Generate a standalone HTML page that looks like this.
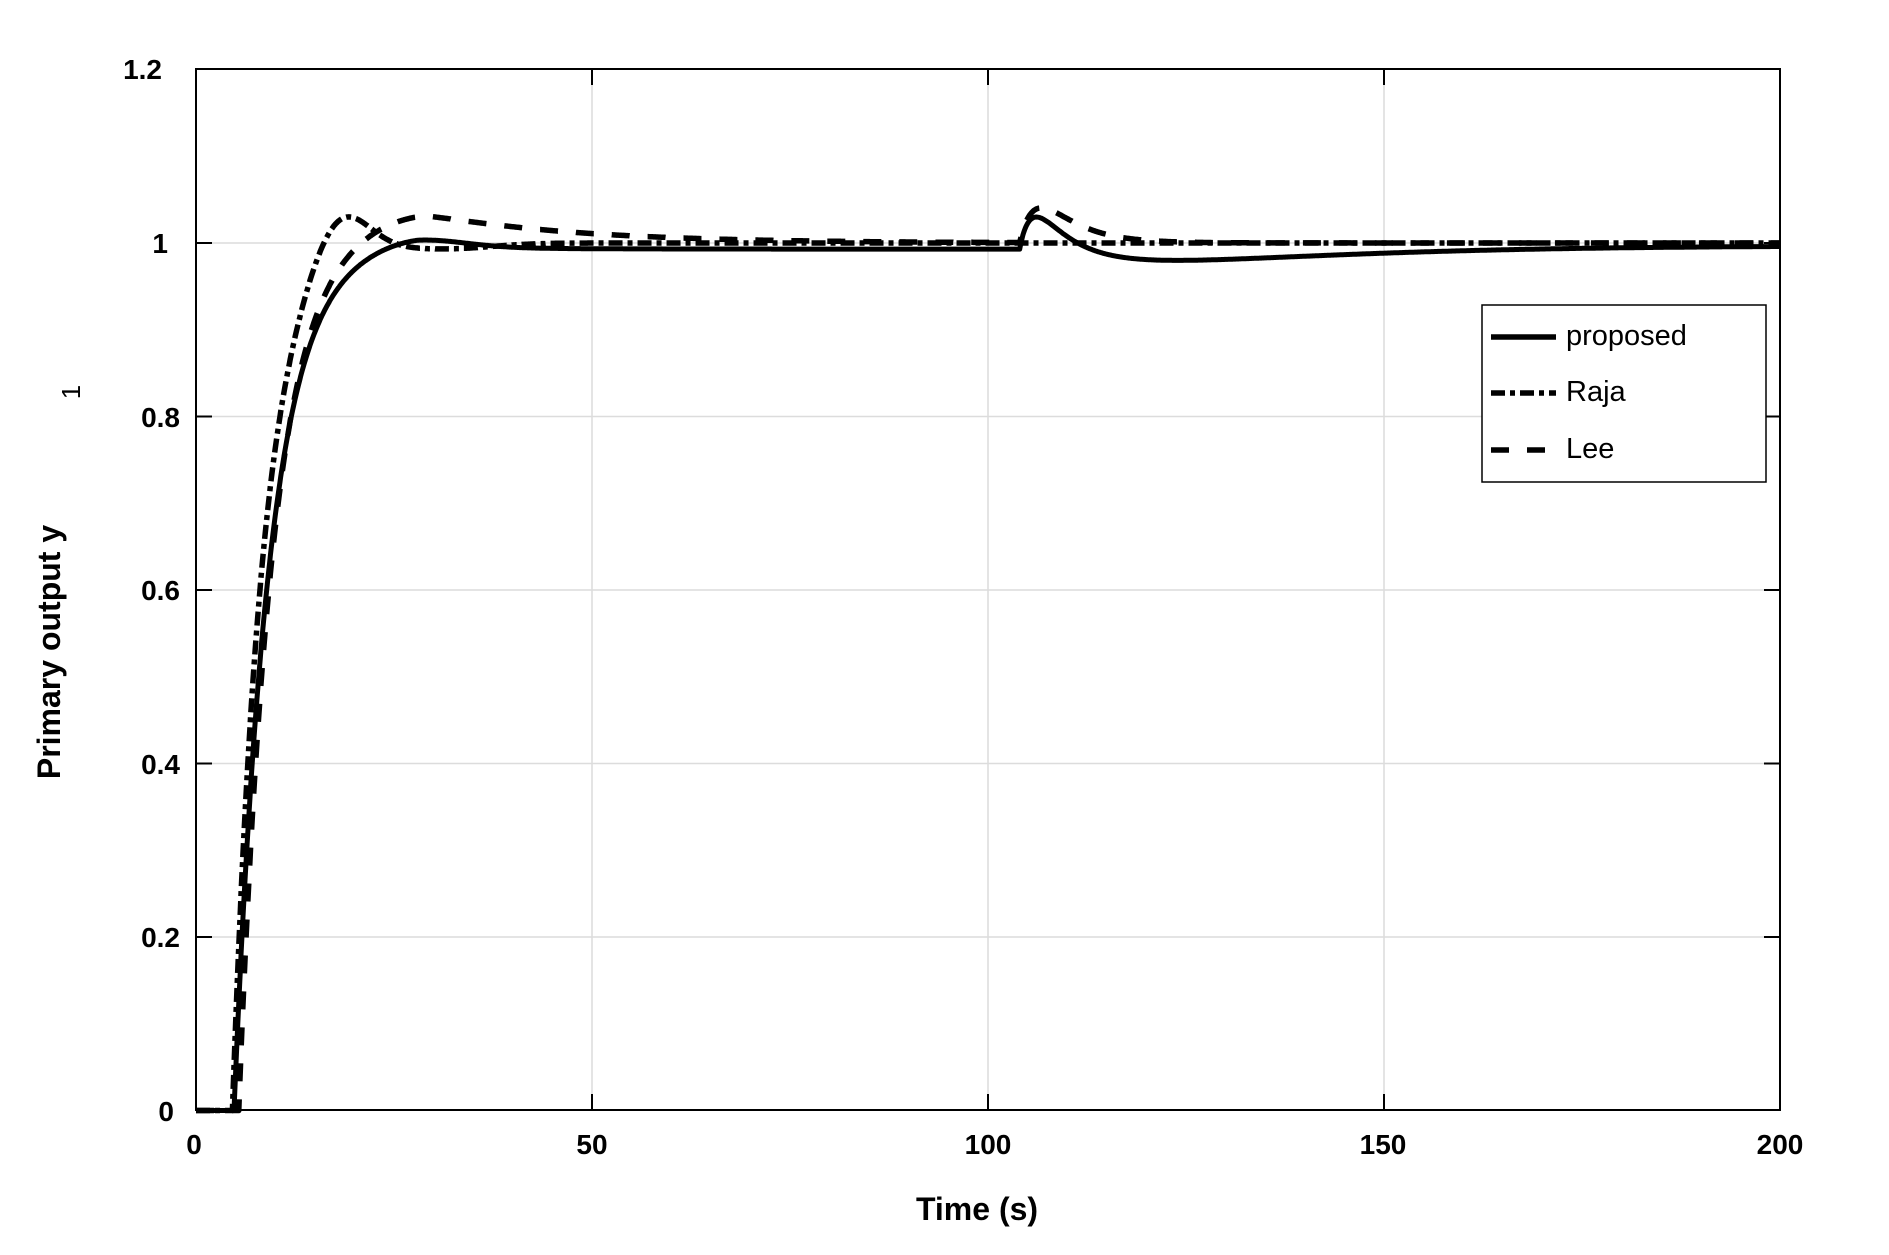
<!DOCTYPE html>
<html><head><meta charset="utf-8"><style>
html,body{margin:0;padding:0;background:#fff;}
svg{display:block;font-family:"Liberation Sans",Arial,sans-serif;}
</style></head><body>
<svg id="s" width="1889" height="1255" viewBox="0 0 1889 1255" xmlns="http://www.w3.org/2000/svg">
<g id="grid" stroke="#dcdcdc" stroke-width="1.5"></g>
<g id="ticks" stroke="#000" stroke-width="2"></g>
<g id="curves" fill="none" stroke="#000" stroke-width="5.5" stroke-linejoin="round"></g>
<rect x="196" y="69" width="1584" height="1041" fill="none" stroke="#000" stroke-width="2"/>
<g font-size="28" font-weight="bold" text-anchor="end">
<text x="162" y="79">1.2</text>
<text x="168" y="253">1</text>
<text x="180" y="427">0.8</text>
<text x="180" y="600">0.6</text>
<text x="180" y="774">0.4</text>
<text x="180" y="947">0.2</text>
<text x="174" y="1121">0</text>
</g>
<g font-size="28" font-weight="bold" text-anchor="middle">
<text x="194" y="1154">0</text>
<text x="592" y="1154">50</text>
<text x="988" y="1154">100</text>
<text x="1383" y="1154">150</text>
<text x="1780" y="1154">200</text>
</g>
<text x="977" y="1220" font-size="32" font-weight="bold" text-anchor="middle">Time (s)</text>
<text transform="translate(60,652) rotate(-90)" font-size="32" font-weight="bold" text-anchor="middle">Primary output y</text>
<text transform="translate(80,392) rotate(-90)" font-size="26" text-anchor="middle">1</text>
<rect x="1482" y="305" width="284" height="177" fill="#fff" stroke="#000" stroke-width="1.5"/>
<g stroke="#000" stroke-width="5.5">
<line x1="1491" y1="337" x2="1556" y2="337"/>
<line x1="1491" y1="393" x2="1556" y2="393" stroke-dasharray="14,5,5,5"/>
<line x1="1491" y1="450" x2="1556" y2="450" stroke-dasharray="18,18"/>
</g>
<g font-size="29">
<text x="1566" y="345">proposed</text>
<text x="1566" y="401">Raja</text>
<text x="1566" y="458">Lee</text>
</g>
</svg>
<script>
var X0=196,XS=1584/200,Y0=1110.5,YS=867.5;
function px(t){return X0+t*XS;} function py(v){return Y0-v*YS;}
var grid=document.getElementById('grid'),ticks=document.getElementById('ticks'),cur=document.getElementById('curves');
var NS="http://www.w3.org/2000/svg";
function ln(g,x1,y1,x2,y2){var l=document.createElementNS(NS,'line');l.setAttribute('x1',x1);l.setAttribute('y1',y1);l.setAttribute('x2',x2);l.setAttribute('y2',y2);g.appendChild(l);}
for(var i=1;i<4;i++){ln(grid,px(i*50),69,px(i*50),1110);ln(ticks,px(i*50),1110,px(i*50),1094);ln(ticks,px(i*50),69,px(i*50),85);}
for(var j=1;j<6;j++){var y=py(j*0.2);ln(grid,196,y,1780,y);ln(ticks,196,y,212,y);ln(ticks,1780,y,1764,y);}
function fo(tau,T){return tau<=0?0:1-Math.exp(-tau/T);}
function g(t,c,s){return Math.exp(-Math.pow((t-c)/s,2));}
function bump(s,A,a,b){return s<=0?0:A*(Math.exp(-s/a)-Math.exp(-s/b));}
function fP(t){if(t<4.8)return 0;var v=fo(t-4.8,4.5)+0.009*g(t,28,8);var s=t-28;if(s>0)v-=0.007*(1-Math.exp(-s/8));
var d=t-104;if(d>0){v+=bump(d,0.12,4,1.5);v-=0.016*(d/17)*Math.exp(1-d/17);v+=0.004*(1-Math.exp(-d/30));}return v;}
function fR(t){if(t<4.6)return 0;var v=fo(t-4.6,3.8)+0.055*g(t,18,5)-0.006*g(t,32,8);return v;}
function fL(t){if(t<5.4)return 0;var v=fo(t-5.4,4.2);v+= t<29?0.035*g(t,29,14):0.035*Math.exp(-(t-29)/18);
var d=t-104;if(d>0)v+=bump(d,0.16,4,2);return v;}
function path(f,dash,w){var d='';for(var t=0;t<=200;t+=0.1){d+=(t?'L':'M')+px(t).toFixed(1)+' '+py(f(t)).toFixed(1);}
var p=document.createElementNS(NS,'path');p.setAttribute('d',d);if(dash)p.setAttribute('stroke-dasharray',dash);if(w)p.setAttribute('stroke-width',w);cur.appendChild(p);}
path(fL,'18,18');path(fR,'14,5,5,5');path(fP,null,5);
</script>
</body></html>
